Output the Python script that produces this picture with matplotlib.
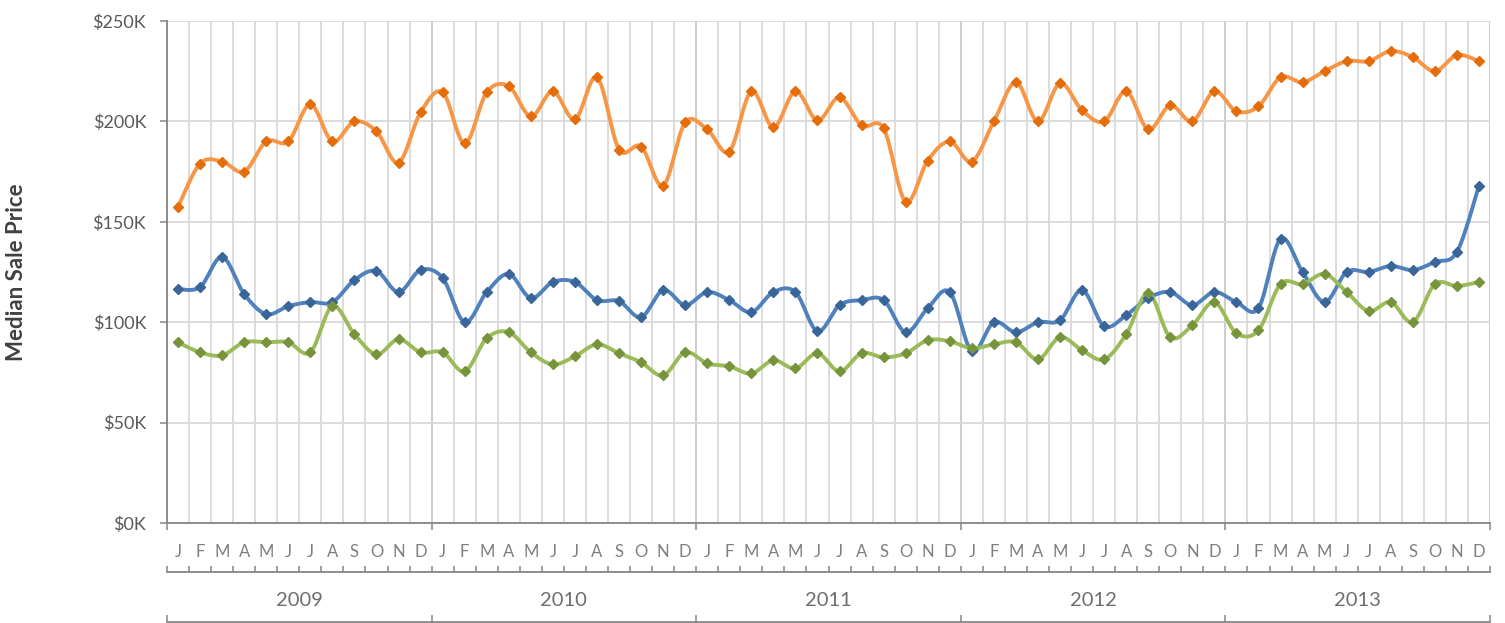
import numpy as np
import matplotlib
matplotlib.use('Agg')
import matplotlib.pyplot as plt
from matplotlib.ticker import FuncFormatter

plt.rcParams['font.family'] = ['Lato', 'DejaVu Sans']

# Median sale price by month, in $K
years = ['2009', '2010', '2011', '2012', '2013']
months = ['J', 'F', 'M', 'A', 'M', 'J', 'J', 'A', 'S', 'O', 'N', 'D']

orange_vals = [157.5, 179, 180, 175, 190, 190, 208.5, 190, 200, 195, 179.5, 204.5,
               214.5, 189, 214.5, 217.5, 202.5, 215, 201, 222, 186, 187.5, 168, 199.5,
               196, 185, 215, 197, 215, 200.5, 212, 198, 196.5, 160, 180.5, 190,
               180, 200, 219.5, 200, 219, 205.5, 200, 215, 196, 208, 200, 215,
               205, 207.5, 222, 219.5, 225, 230, 230, 235, 232, 225, 233, 230]

blue_vals = [116.5, 117.5, 132.5, 114, 104, 108, 110, 110, 121, 125.5, 115, 126,
             122, 100, 115, 124, 112, 120, 120, 111, 110.5, 102.5, 116, 108.5,
             115, 111, 105, 115, 115, 95.5, 108.5, 111, 111, 95, 107, 115,
             85.5, 100, 95, 100, 101, 116, 98, 103.5, 112, 115, 108.5, 115,
             110, 107, 141.5, 125, 110, 125, 125, 128, 126, 130, 135, 168]

green_vals = [90, 85, 83.5, 90, 90, 90, 85, 108, 94, 84, 91.5, 85,
              85, 75.5, 92, 95, 85, 79, 83, 89, 84.5, 80, 73.5, 85,
              79.5, 78, 74.5, 81, 77, 84.5, 75.5, 84.5, 82.5, 84.5, 91, 90.5,
              87, 89, 90, 81.5, 92.5, 86, 81.5, 94, 114.5, 92.5, 98.5, 110,
              94.5, 96, 119, 119, 124, 115, 105.5, 110, 100, 119, 118, 120]

series = [
    (blue_vals, '#4F81BD', '#3A6599'),
    (green_vals, '#9BBB59', '#77933C'),
    (orange_vals, '#F79646', '#E46C0A'),
]


def smooth(vals, steps=24):
    # Excel-like smoothed line: cubic bezier with catmull-rom control points
    y = np.asarray(vals, dtype=float)
    x = np.arange(len(y), dtype=float)
    p = np.column_stack([x, y])
    pad = np.vstack([p[0], p, p[-1]])
    t = np.linspace(0, 1, steps, endpoint=False)[:, None]
    out = []
    for i in range(len(p) - 1):
        p0, p1, p2, p3 = pad[i], pad[i + 1], pad[i + 2], pad[i + 3]
        c1 = p1 + (p2 - p0) / 6
        c2 = p2 - (p3 - p1) / 6
        seg = (1 - t) ** 3 * p1 + 3 * (1 - t) ** 2 * t * c1 + 3 * (1 - t) * t ** 2 * c2 + t ** 3 * p2
        out.append(seg)
    out.append(p[-1:])
    out = np.vstack(out)
    return out[:, 0], out[:, 1]


W, H = 1505, 623
fig = plt.figure(figsize=(W / 100, H / 100), dpi=100)
ax = fig.add_axes([167 / W, 1 - 523 / H, (1490 - 167) / W, (523 - 21) / H])

n = len(months) * len(years)
bounds = np.arange(n + 1) - 0.5
year_bounds = bounds[::12]

# gridlines
for b in bounds:
    col = '#C8C8C8' if b in year_bounds else '#D9D9D9'
    ax.axvline(b, color=col, lw=1.3, zorder=0)
ax.yaxis.grid(True, color='#D9D9D9', lw=1.3)
ax.set_axisbelow(True)

for vals, line_col, mark_col in series:
    xs, ys = smooth(vals)
    ax.plot(xs, ys, color=line_col, lw=2.8, solid_capstyle='round', zorder=3)
    ax.plot(np.arange(n), vals, linestyle='none', marker='D', ms=5.2,
            color=mark_col, mec=mark_col, zorder=4)

ax.set_xlim(-0.5, n - 0.5)
ax.set_ylim(0, 250)
ax.set_yticks(np.arange(0, 251, 50))
ax.yaxis.set_major_formatter(FuncFormatter(lambda v, p: f'${v:.0f}K'))

for s in ['top', 'right']:
    ax.spines[s].set_visible(False)
for s in ['left', 'bottom']:
    ax.spines[s].set_color('#868686')
    ax.spines[s].set_linewidth(1.3)

ax.tick_params(axis='y', length=5, width=1.1, color='#868686', pad=10,
               labelsize=13, labelcolor='#595959')

# month row
ax.set_xticks(year_bounds, labels=[''] * len(year_bounds))
ax.set_xticks(np.arange(n), labels=months * len(years), minor=True)
ax.tick_params(axis='x', which='major', length=5, width=1.1, color='#868686')
ax.tick_params(axis='x', which='minor', length=0, pad=15, labelsize=12,
               labelcolor='#7F7F7F')

# line under months with a tick at every month boundary, years below it
sec1 = ax.secondary_xaxis((523 - 572) / (523 - 21))
sec1.xaxis.remove_overlapping_locs = False
sec1.set_xticks(bounds, labels=[''] * len(bounds))
sec1.set_xticks(np.arange(len(years)) * 12 + 5.5, labels=years, minor=True)
sec1.tick_params(which='major', direction='in', length=4, width=1.1, color='#868686')
sec1.tick_params(which='minor', length=0, pad=14.5, labelsize=14.5,
                 labelcolor='#6E6E6E')
sec1.spines['bottom'].set_color('#868686')
sec1.spines['bottom'].set_linewidth(1.3)

# bottom line with ticks at the year boundaries
sec2 = ax.secondary_xaxis((523 - 621.5) / (523 - 21))
sec2.set_xticks(year_bounds, labels=[''] * len(year_bounds))
sec2.tick_params(direction='in', length=5, width=1.1, color='#868686')
sec2.spines['bottom'].set_color('#868686')
sec2.spines['bottom'].set_linewidth(1.3)

fig.text(17 / W, 1 - 272 / H, 'Median Sale Price', rotation=90, ha='center',
         va='center', fontsize=16, fontweight='bold', color='#404040')

fig.savefig('out.png', dpi=100)
